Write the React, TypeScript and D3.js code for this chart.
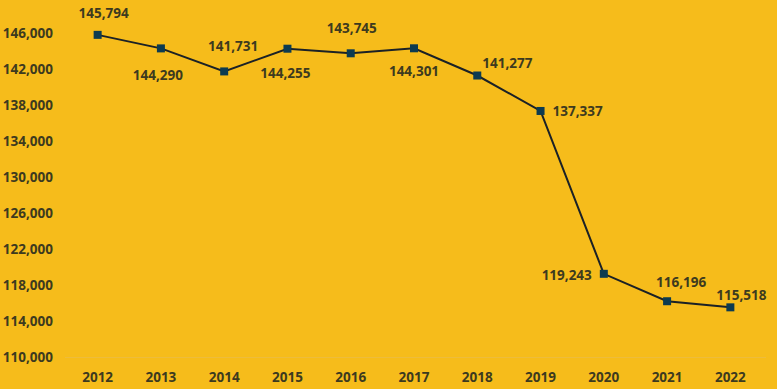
import React from "react";
import * as d3 from "d3";

const years = ["2012","2013","2014","2015","2016","2017","2018","2019","2020","2021","2022"];
const values = [145794,144290,141731,144255,143745,144301,141277,137337,119243,116196,115518];
const yTicks = [110000,114000,118000,122000,126000,130000,134000,138000,142000,146000];
// label placement: dx, dy relative to point, anchor
const labelPos: [number, number, string][] = [
  [6, -22, "middle"],
  [-3, 27, "middle"],
  [9, -25, "middle"],
  [-2, 25, "middle"],
  [1, -25, "middle"],
  [0, 23, "middle"],
  [5, -12, "start"],
  [12, 0, "start"],
  [-12, 1, "end"],
  [14, -19, "middle"],
  [11, -12, "middle"],
];

const W = 777, H = 389;
const BG = "#F6BC1B";
const TXT = "#3D3A1F";

export default function App() {
  const x = d3.scaleBand<string>().domain(years).range([66, 762]);
  const y = d3.scaleLinear().domain([110000, 146000]).range([357, 33]);
  const fmt = d3.format(",");
  const line = d3.line<number>()
    .x((_, i) => x(years[i])! + x.bandwidth() / 2)
    .y((d) => y(d));
  const font = "'Open Sans', sans-serif";
  const fs = 13.5;
  return (
    <svg width={W} height={H} style={{ position: "absolute", left: 0, top: 0, background: BG }}>
      <rect x={0} y={0} width={W} height={H} fill={BG} />
      {yTicks.map((t) => (
        <text key={t} x={53} y={y(t)} dy="0.35em" textAnchor="end" fontFamily={font} fontWeight={700} fontSize={fs} fill={TXT}>
          {fmt(t)}
        </text>
      ))}
      <line x1={65} x2={766} y1={357.5} y2={357.5} stroke="#EDBC3C" strokeWidth={1} />
      {years.map((yr) => (
        <text key={yr} x={x(yr)! + x.bandwidth() / 2} y={377.5} dy="0.35em" textAnchor="middle" fontFamily={font} fontWeight={700} fontSize={fs} fill={TXT}>
          {yr}
        </text>
      ))}
      <path d={line(values) || ""} fill="none" stroke="#1B2126" strokeWidth={2} />
      {values.map((v, i) => (
        <rect key={i} x={x(years[i])! + x.bandwidth() / 2 - 4} y={y(v) - 4} width={8} height={8} fill="#0D3B50" />
      ))}
      {values.map((v, i) => (
        <text key={"l" + i} x={x(years[i])! + x.bandwidth() / 2 + labelPos[i][0]} y={y(v) + labelPos[i][1]} dy="0.35em" textAnchor={labelPos[i][2] as any} fontFamily={font} fontWeight={700} fontSize={fs} fill={TXT}>
          {fmt(v)}
        </text>
      ))}
    </svg>
  );
}
